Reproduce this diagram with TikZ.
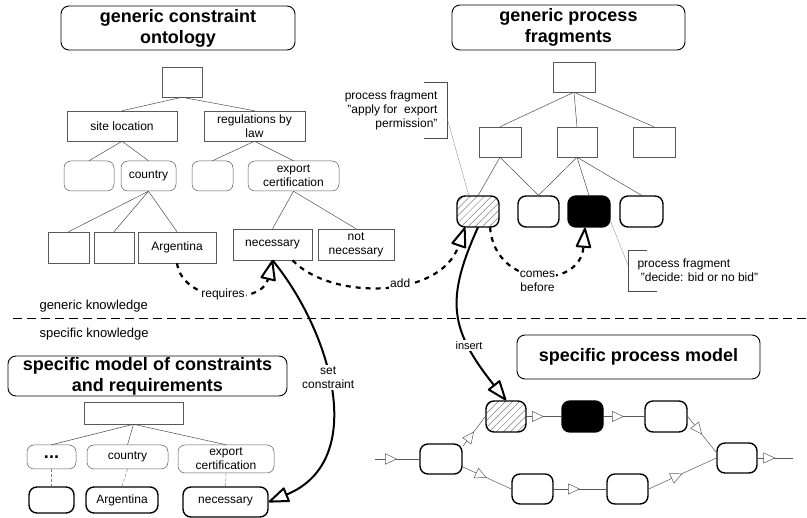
\documentclass[tikz,border=0pt]{standalone}
\usepackage{fontspec}
\setmainfont{Liberation Sans}
\usetikzlibrary{arrows.meta,calc,decorations.markings,patterns.meta}
\newcommand{\hdfont}{\fontsize{18}{21}\selectfont\bfseries}
\newcommand{\lbfont}{\fontsize{12}{14}\selectfont}
\begin{document}
\begin{tikzpicture}[x=1pt, y=-1pt, font=\lbfont,
    title/.style={draw, line width=0.9pt, rounded corners=8pt, font=\hdfont, align=center, inner sep=0pt},
    box/.style={draw=gray!70!black, line width=0.5pt, align=center, inner sep=1pt},
    rbox/.style={box, rounded corners=7pt},
    frag/.style={draw, line width=1.4pt, rounded corners=8pt, minimum width=42pt, minimum height=31pt},
    hatch/.style={frag, pattern={Lines[angle=45, distance=5pt, line width=0.5pt]}, pattern color=gray},
    edge/.style={gray!60!black, line width=0.5pt},
    tip/.style={-{Triangle[open, length=22pt, width=16pt, line width=2pt, round]}},
    dep/.style={line width=2.2pt, dash pattern=on 5pt off 5pt, tip},
    link/.style={line width=2pt, tip},
    flow/.style={gray!70!black, line width=0.5pt, postaction=decorate,
        decoration={markings, mark=at position 0.5 with {\arrow{Triangle[open, length=12pt, width=11pt, fill=white]}}}},
    lbl/.style={fill=white, inner sep=1.5pt, align=center}]
    \useasboundingbox (0,0) rectangle (807,518);

    % generic constraint ontology
    \node[title, minimum width=234pt, minimum height=44pt] (gtitle) at (178,28) {generic constraint\\ontology};
    \node[box, minimum width=40pt, minimum height=30pt] (groot) at (182,82) {};
    \node[box, minimum width=110pt, minimum height=30pt] (site) at (122,126) {site location};
    \node[box, minimum width=101pt, minimum height=30pt] (regs) at (254.5,126) {regulations by\\law};
    \node[rbox, minimum width=50pt, minimum height=30pt] (gempa) at (89,176) {};
    \node[rbox, minimum width=55pt, minimum height=30pt] (gcountry) at (148.5,176) {country};
    \node[rbox, minimum width=41pt, minimum height=30pt] (gempb) at (212.5,176) {};
    \node[rbox, minimum width=91pt, minimum height=30pt] (gexport) at (293.5,176) {export\\certification};
    \node[box, minimum width=41pt, minimum height=31pt] (gleafa) at (68.5,247.5) {};
    \node[box, minimum width=40pt, minimum height=31pt] (gleafb) at (114,247.5) {};
    \node[box, minimum width=78pt, minimum height=31pt] (garg) at (177,247.5) {Argentina};
    \node[box, minimum width=79pt, minimum height=31pt] (gnec) at (272.5,244.5) {necessary};
    \node[box, minimum width=76pt, minimum height=31pt] (gnot) at (356,244.5) {not\\necessary};
    \foreach \a/\b in {groot/site, groot/regs, site/gempa, site/gcountry, regs/gempb, regs/gexport,
        gcountry/gleafa, gcountry/gleafb, gcountry/garg, gexport/gnec, gexport/gnot}
        \draw[edge] (\a.south) -- (\b.north);

    % generic process fragments
    \node[title, minimum width=233pt, minimum height=45pt] (ptitle) at (568.5,27.5) {generic process\\fragments};
    \node[box, minimum width=42pt, minimum height=30pt] (proot) at (574,77) {};
    \node[box, minimum width=42pt, minimum height=30pt] (pa) at (500,142) {};
    \node[box, minimum width=40pt, minimum height=30pt] (pb) at (577,142) {};
    \node[box, minimum width=42pt, minimum height=30pt] (pc) at (654,142) {};
    \node[hatch] (fa) at (478,211.5) {};
    \node[frag, minimum width=41pt] (fb) at (538.5,211.5) {};
    \node[frag, fill=black] (fc) at (589,211.5) {};
    \node[frag, minimum width=43pt] (fd) at (641.5,211.5) {};
    \foreach \a/\b in {proot/pa, proot/pb, proot/pc, pa/fa, pa/fb, pb/fb, pb/fc, pb/fd}
        \draw[edge] (\a.south) -- (\b.north);

    % notes
    \node[anchor=east, align=right] (notea) at (441,110.5) {process fragment\\"apply for~ export\\permission"};
    \draw[edge] (424,82) -- (447,82) -- (447,138) -- (424,138);
    \draw[gray, line width=0.3pt] (447,118) -- (fa.120);
    \node[anchor=west, align=left] (noteb) at (634,270) {process fragment\\ \ "decide: bid or no bid"};
    \draw[edge] (647,250) -- (628,250) -- (628,291) -- (657,291);
    \draw[gray, line width=0.3pt] (fc.-25) -- (628,265);

    % knowledge levels
    \draw[line width=0.8pt, dash pattern=on 9pt off 5pt] (13,318) -- (807,318);
    \node[anchor=west, font=\fontsize{13}{15}\selectfont] (gknow) at (36,306) {generic knowledge};
    \node[anchor=west, font=\fontsize{13}{15}\selectfont] (sknow) at (36,334) {specific knowledge};

    % specific model of constraints
    \node[title, minimum width=279pt, minimum height=40pt] (stitle) at (147.5,376) {specific model of constraints\\and requirements};
    \node[box, minimum width=99pt, minimum height=22pt] (sroot) at (133.5,413) {};
    \node[rbox, minimum width=49pt, minimum height=24pt] (sdots) at (51.5,457) {\bfseries\fontsize{18}{18}\selectfont...};
    \node[rbox, minimum width=81pt, minimum height=24pt] (scountry) at (127.5,457) {country};
    \node[rbox, minimum width=96pt, minimum height=28pt] (sexport) at (226,459) {export\\certification};
    \node[frag, minimum width=45pt, minimum height=26pt] (sleafa) at (51.5,500) {};
    \node[frag, minimum width=72pt, minimum height=26pt] (sarg) at (122,500) {Argentina};
    \node[frag, minimum width=85pt, minimum height=30pt] (snec) at (225.5,502) {necessary};
    \foreach \b in {sdots, scountry, sexport}
        \draw[edge] (sroot.south) -- (\b.north);
    \foreach \a/\b in {sdots/sleafa, scountry/sarg, sexport/snec}
        \draw[gray, line width=0.5pt, densely dashed] (\a.south) -- (\b.north);

    % specific process model
    \node[title, minimum width=243pt, minimum height=44pt] (mtitle) at (638.5,357) {specific process model};
    \node[hatch, minimum width=40pt] (ma) at (506,416.5) {};
    \node[frag, minimum width=41pt, fill=black] (mb) at (582.5,416.5) {};
    \node[frag] (mc) at (666,416.5) {};
    \node[frag, minimum height=30pt] (mstart) at (441,459) {};
    \node[frag, minimum width=40pt, minimum height=30pt] (mend) at (737,458) {};
    \node[frag, minimum width=41pt, minimum height=30pt] (md) at (532.5,489) {};
    \node[frag, minimum width=41pt, minimum height=30pt] (me) at (627.5,489) {};
    \coordinate (min) at (375,459);
    \coordinate (mout) at (793,458);
    \draw[flow] (min) -- (mstart.west);
    \draw[flow] (mstart.30) -- (ma.west);
    \draw[flow] (mstart.-20) -- (md.west);
    \draw[flow] (ma) -- (mb);
    \draw[flow] (mb) -- (mc);
    \draw[flow] (mc.east) -- (mend.165);
    \draw[flow] (md) -- (me);
    \draw[flow] (me.east) -- (mend.west);
    \draw[flow] (mend.east) -- (mout);

    % relations
    \draw[dep] (garg.south) .. controls (183,305) and (262,305) .. (gnec.south)
        node[lbl, pos=0.5] {requires};
    \draw[dep] ($(gnec.south)+(20,0)$) .. controls (330,300) and (440,300) .. ($(fa.south)+(-13,0)$)
        node[lbl, pos=0.58] {add};
    \draw[dep] ($(fa.south)+(12,0)$) .. controls +(5,62) and +(-5,62) .. ($(fc.south)+(-4,0)$)
        node[lbl, pos=0.5, yshift=-7pt, inner sep=1pt] {comes\\before};
    \draw[link] (gnec.south) .. controls (330,330) and (370,460) .. (snec.east)
        node[lbl, pos=0.45] {set\\constraint};
    \draw[link] (fa.south) .. controls (445,300) and (450,330) .. (ma.north)
        node[lbl, pos=0.7, font=\fontsize{11}{13}\selectfont] {insert};
\end{tikzpicture}
\end{document}
